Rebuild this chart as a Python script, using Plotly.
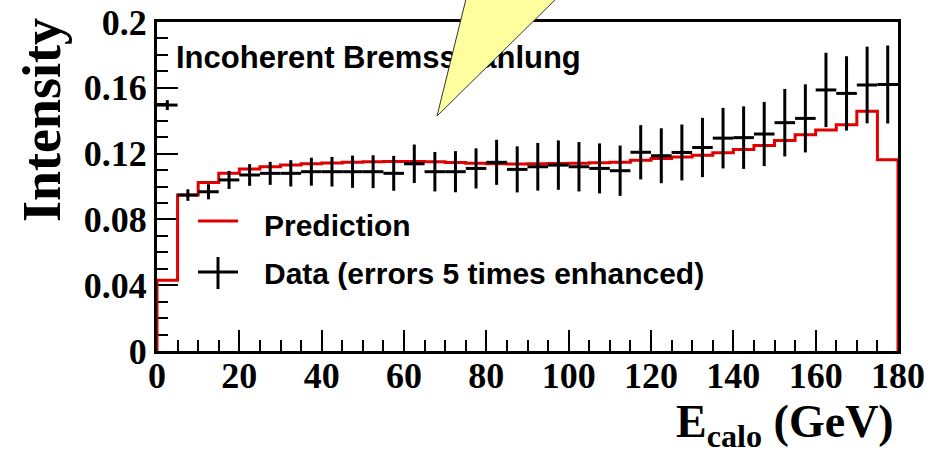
import plotly.graph_objects as go

# ---- data ----
bin_width = 5
bin_low = list(range(0, 180, 5))  # 36 bins, 0..175 GeV lower edges

prediction = [0.043, 0.0948, 0.1025, 0.108, 0.1106, 0.112, 0.113, 0.1138, 0.1143, 0.1148,
              0.115, 0.1152, 0.1152, 0.115, 0.1146, 0.1142, 0.1138, 0.1137, 0.1138, 0.114,
              0.1142, 0.1145, 0.1147, 0.116, 0.117, 0.118, 0.119, 0.1205, 0.1225, 0.125,
              0.128, 0.1315, 0.1343, 0.1376, 0.1458, 0.1163]

data_vals = [0.1495, 0.0948, 0.0968, 0.104, 0.107, 0.108, 0.108, 0.109, 0.109, 0.109,
             0.109, 0.108, 0.1138, 0.109, 0.109, 0.111, 0.1147, 0.1104, 0.112, 0.113,
             0.112, 0.111, 0.1096, 0.1208, 0.1187, 0.1207, 0.1237, 0.1294, 0.1297, 0.1319,
             0.1388, 0.1414, 0.1587, 0.1566, 0.1617, 0.162]

data_errs = [0.003, 0.0035, 0.0046, 0.0055, 0.0066, 0.007, 0.008, 0.0085, 0.009, 0.0098,
             0.010, 0.0106, 0.0117, 0.012, 0.0125, 0.0122, 0.0137, 0.014, 0.0145, 0.015,
             0.015, 0.0152, 0.0153, 0.0165, 0.0167, 0.017, 0.018, 0.0184, 0.019, 0.0195,
             0.0205, 0.0207, 0.0226, 0.0226, 0.0233, 0.0237]

y_tickvals = [0, 0.04, 0.08, 0.12, 0.16, 0.2]
y_ticktext = ["0", "0.04", "0.08", "0.12", "0.16", "0.2"]
x_tickvals = [0, 20, 40, 60, 80, 100, 120, 140, 160, 180]

title_text = "Incoherent Bremsstrahlung"

# ---- layout geometry (pixels) ----
W, H = 948, 453
L, R, T, B = 157, 50, 22, 102
PW, PH = W - L - R, H - T - B
XMAX, YMAX = 180, 0.2


def px(xp, yp):
    return (xp - L) / PW, (H - B - yp) / PH


# step histogram outline for prediction
x_edges = bin_low + [bin_low[-1] + bin_width]
step_x = [x_edges[0]] + x_edges
step_y = [0] + prediction + [0]

centers = [b + bin_width / 2 for b in bin_low]

serif = "Liberation Serif"
sans = "Liberation Sans"

fig = go.Figure()
fig.add_trace(go.Scatter(
    x=step_x, y=step_y, mode="lines", line=dict(color="#e00000", width=3, shape="hv"),
    showlegend=False, hoverinfo="skip"))
fig.add_trace(go.Scatter(
    x=centers, y=data_vals, mode="markers", marker=dict(size=1, color="black"),
    error_y=dict(type="data", array=data_errs, color="black", thickness=3, width=0),
    error_x=dict(type="constant", value=bin_width / 2, color="black", thickness=3, width=0),
    showlegend=False))

# title inside the frame as a text trace (so the callout wedge can cover it)
tx, ty = px(176, 60)
fig.add_trace(go.Scatter(
    x=[tx * XMAX], y=[ty * YMAX], mode="text", text=[title_text],
    textposition="middle right", cliponaxis=False, hoverinfo="skip", showlegend=False,
    textfont=dict(family=sans, size=31, color="black", weight="bold")))

fig.update_xaxes(range=[0, XMAX], tickvals=x_tickvals, ticks="inside", ticklen=21,
                 tickwidth=1.5, tickcolor="black", showline=True, linecolor="black",
                 linewidth=3, mirror=True, showgrid=False, zeroline=False,
                 ticklabelstandoff=-9,
                 tickfont=dict(family=serif, size=36, color="black", weight="bold"),
                 minor=dict(dtick=5, ticks="inside", ticklen=11, tickwidth=1.5,
                            tickcolor="black", showgrid=False),
                 layer="below traces")
fig.update_yaxes(range=[0, YMAX], tickvals=y_tickvals, ticktext=y_ticktext, ticks="inside",
                 ticklen=21, tickwidth=1.5, tickcolor="black", showline=True,
                 linecolor="black", linewidth=3, mirror=True, showgrid=False, zeroline=False,
                 tickfont=dict(family=serif, size=36, color="black", weight="bold"),
                 minor=dict(dtick=0.01, ticks="inside", ticklen=11, tickwidth=1.5,
                            tickcolor="black", showgrid=False),
                 layer="below traces")

shapes = []
annotations = []

# legend (drawn manually)
x0, y0 = px(198, 221)
x1, _ = px(238, 221)
shapes.append(dict(type="line", xref="paper", yref="paper", x0=x0, y0=y0, x1=x1, y1=y0,
                   line=dict(color="#e00000", width=3)))
x0, yc = px(198, 272)
x1, _ = px(238, 272)
shapes.append(dict(type="line", xref="paper", yref="paper", x0=x0, y0=yc, x1=x1, y1=yc,
                   line=dict(color="black", width=3)))
xm, ya = px(218, 257)
_, yb = px(218, 289)
shapes.append(dict(type="line", xref="paper", yref="paper", x0=xm, y0=ya, x1=xm, y1=yb,
                   line=dict(color="black", width=3)))

tx, ty = px(262, 225)
annotations.append(dict(text="Prediction", x=tx, y=ty, xref="paper", yref="paper",
                        xanchor="left", yanchor="middle", showarrow=False,
                        font=dict(family=sans, size=30, color="black", weight="bold")))
tx, ty = px(262, 273)
annotations.append(dict(text="Data (errors 5 times enhanced)", x=tx, y=ty, xref="paper",
                        yref="paper", xanchor="left", yanchor="middle", showarrow=False,
                        font=dict(family=sans, size=30, color="black", weight="bold")))

# axis titles
tx, ty = px(42, 120)
annotations.append(dict(text="Intensity", x=tx, y=ty, xref="paper", yref="paper",
                        textangle=-90, xanchor="center", yanchor="middle", showarrow=False,
                        font=dict(family=serif, size=54, color="black", weight="bold")))
tx, ty = px(896, 394)
annotations.append(dict(text="E<sub>calo</sub> (GeV)", x=tx, y=ty, xref="paper",
                        yref="paper", xanchor="right", yanchor="top", showarrow=False,
                        font=dict(family=serif, size=46, color="black", weight="bold")))

# yellow callout wedge
p_tip = px(437, 116)
p_l = px(467, -5)
p_r = px(560, -5)
path = "M {} {} L {} {} L {} {} Z".format(p_tip[0], p_tip[1], p_l[0], p_l[1], p_r[0], p_r[1])
shapes.append(dict(type="path", xref="paper", yref="paper", path=path,
                   fillcolor="#ffffa0", line=dict(color="#333333", width=1), layer="above"))

fig.update_layout(width=W, height=H, margin=dict(l=L, r=R, t=T, b=B, autoexpand=False),
                  paper_bgcolor="white", plot_bgcolor="white", showlegend=False,
                  shapes=shapes, annotations=annotations)

fig.write_html("out.html")
